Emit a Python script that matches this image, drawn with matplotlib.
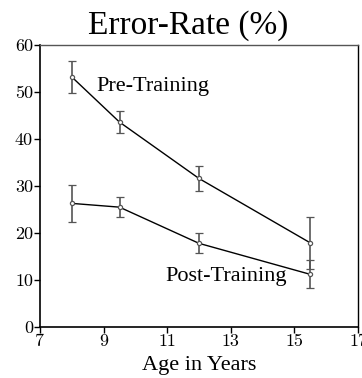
import matplotlib
matplotlib.use('Agg')
import matplotlib.pyplot as plt
import numpy as np

# data
ages = [8, 9.5, 12, 15.5]
pre_mean = [53.2, 43.6, 31.6, 17.9]
pre_err = [3.5, 2.4, 2.7, 5.6]
post_mean = [26.3, 25.5, 17.8, 11.2]
post_err = [4.0, 2.2, 2.1, 3.0]
xticks = [7, 9, 11, 13, 15, 17]
yticks = [0, 10, 20, 30, 40, 50, 60]

serif = ['Liberation Serif', 'DejaVu Serif']
plt.rcParams['font.family'] = serif

fig = plt.figure(figsize=(3.62, 3.78), dpi=100)
ax = fig.add_axes([40 / 362, 51 / 378, 318 / 362, 282 / 378])

for mean, err in ((pre_mean, pre_err), (post_mean, post_err)):
    ax.plot(ages, mean, '-', color='black', lw=1.0, zorder=2)
    ax.errorbar(ages, mean, yerr=err, fmt='o', color='#555555', ecolor='#555555',
                elinewidth=1.2, capsize=2.6, capthick=1.2, ms=3,
                mfc='white', mec='#555555', mew=0.9, zorder=3)

ax.text(8.76, 51.1, 'Pre-Training', fontsize=16, va='center', ha='left')
ax.text(10.93, 10.7, 'Post-Training', fontsize=16, va='center', ha='left')

ax.set_xlim(7, 17)
ax.set_ylim(0, 60)
ax.set_xticks(xticks)
ax.set_yticks(yticks)
ax.tick_params(axis='both', direction='out', length=4, width=1, labelsize=13,
               top=False, right=False, pad=1)
for lab in ax.get_xticklabels() + ax.get_yticklabels():
    lab.set_fontfamily(['cmr10', 'DejaVu Serif'])
for side in ('left', 'bottom'):
    ax.spines[side].set_linewidth(1.2)
for side in ('top', 'right'):
    ax.spines[side].set_linewidth(1.0)
ax.spines['top'].set_color('#555555')

ax.set_xlabel('Age in Years', fontsize=16, labelpad=5)
fig.text(188 / 362, 1 - 26 / 378, 'Error-Rate (%)', fontsize=24, ha='center', va='center')

fig.savefig('out.png', dpi=100)
